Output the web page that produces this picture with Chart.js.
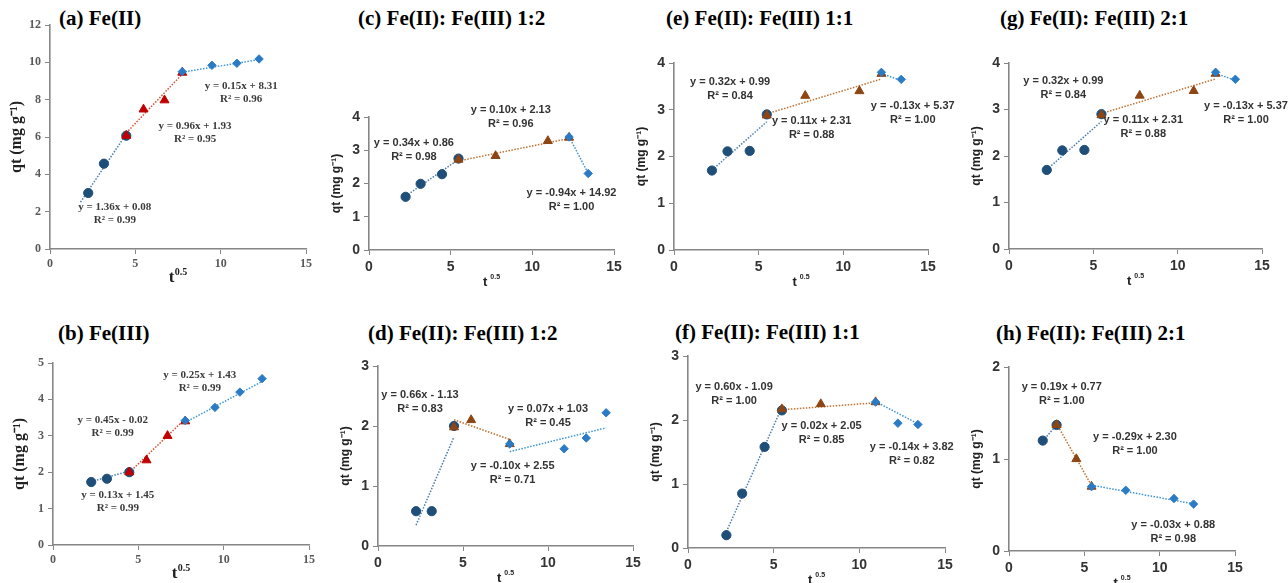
<!DOCTYPE html>
<html>
<head>
<meta charset="utf-8">
<script src="https://cdn.jsdelivr.net/npm/chart.js@4.4.0/dist/chart.umd.min.js"></script>
<style>
  body { margin: 0; background: #fff; width: 1288px; height: 583px; overflow: hidden; position: relative; }
  canvas { position: absolute; }
  .ttl { position: absolute; font: bold 21px "Liberation Serif", "Times New Roman", serif; line-height: 24px; color: #000; white-space: nowrap; }
</style>
</head>
<body>
<script>
// values: [t^0.5, qt]
// (a) Fe(II)
const aCircles = [[2.24, 3.00], [3.16, 4.57], [4.47, 6.07]];
const aTriangles = [[4.47, 6.07], [5.48, 7.48], [6.71, 7.97], [7.75, 9.45]];
const aDiamonds = [[7.75, 9.50], [9.49, 9.84], [10.95, 9.95], [12.25, 10.18]];
const aFits = [[1.36, 0.08, 0.99], [0.96, 1.93, 0.95], [0.15, 8.31, 0.96]];

// (b) Fe(III)
const bCircles = [[2.24, 1.73], [3.16, 1.82], [4.47, 2.00]];
const bTriangles = [[4.47, 2.00], [5.48, 2.33], [6.71, 3.00], [7.75, 3.40]];
const bDiamonds = [[7.75, 3.42], [9.49, 3.78], [10.95, 4.20], [12.25, 4.57]];
const bFits = [[0.13, 1.45, 0.99], [0.45, -0.02, 0.99], [0.25, 1.43, 0.99]];

// (c) Fe(II): Fe(III) 1:2
const cCircles = [[2.24, 1.60], [3.16, 1.99], [4.47, 2.28], [5.48, 2.75]];
const cTriangles = [[5.48, 2.72], [7.75, 2.83], [10.95, 3.28], [12.25, 3.38]];
const cDiamonds = [[12.25, 3.40], [13.42, 2.30]];
const cFits = [[0.34, 0.86, 0.98], [0.10, 2.13, 0.96], [-0.94, 14.92, 1.00]];

// (d) Fe(II): Fe(III) 1:2
const dCircles = [[2.24, 0.58], [3.16, 0.58], [4.47, 2.00]];
const dTriangles = [[4.47, 1.98], [5.48, 2.10], [7.75, 1.70]];
const dDiamonds = [[7.75, 1.70], [10.95, 1.62], [12.25, 1.80], [13.42, 2.22]];
const dFits = [[0.66, -1.13, 0.83], [-0.10, 2.55, 0.71], [0.07, 1.03, 0.45]];

// (e) Fe(II): Fe(III) 1:1
const eCircles = [[2.24, 1.70], [3.16, 2.11], [4.47, 2.12], [5.48, 2.90]];
const eTriangles = [[5.48, 2.88], [7.75, 3.30], [10.95, 3.40], [12.25, 3.77]];
const eDiamonds = [[12.25, 3.80], [13.42, 3.65]];
const eFits = [[0.32, 0.99, 0.84], [0.11, 2.31, 0.88], [-0.13, 5.37, 1.00]];

// (f) Fe(II): Fe(III) 1:1
const fCircles = [[2.24, 0.20], [3.16, 0.85], [4.47, 1.58], [5.48, 2.15]];
const fTriangles = [[5.48, 2.17], [7.75, 2.25], [10.95, 2.28]];
const fDiamonds = [[10.95, 2.28], [12.25, 1.95], [13.42, 1.93]];
const fFits = [[0.60, -1.09, 1.00], [0.02, 2.05, 0.85], [-0.14, 3.82, 0.82]];

// (g) Fe(II): Fe(III) 2:1
const gCircles = [[2.24, 1.70], [3.16, 2.12], [4.47, 2.13], [5.48, 2.90]];
const gTriangles = [[5.48, 2.88], [7.75, 3.30], [10.95, 3.40], [12.25, 3.77]];
const gDiamonds = [[12.25, 3.80], [13.42, 3.65]];
const gFits = [[0.32, 0.99, 0.84], [0.11, 2.31, 0.88], [-0.13, 5.37, 1.00]];

// (h) Fe(II): Fe(III) 2:1
const hCircles = [[2.24, 1.20], [3.16, 1.37]];
const hTriangles = [[3.16, 1.37], [4.47, 1.00], [5.48, 0.70]];
const hDiamonds = [[5.48, 0.70], [7.75, 0.66], [10.95, 0.57], [12.25, 0.51]];
const hFits = [[0.19, 0.77, 1.00], [-0.29, 2.30, 1.00], [-0.03, 0.88, 0.98]];

const xTicks = [0, 5, 10, 15];

// layout: area = [left, top, right, bottom] of the plot box, labels in data units
const panels = [
  { title: '(a) Fe(II)', titleAt: [59, 18], area: [50, 25, 306, 249], serif: true, red: true,
    series: [aCircles, aTriangles, aDiamonds], fits: aFits, yMax: 12, yStep: 2, back: [0.45, 0, 0],
    labels: [[3.8, 2.25], [8.5, 6.6], [11.2, 8.7]] },
  { title: '(b) Fe(III)', titleAt: [58, 333], area: [53, 363, 309, 545], serif: true, red: true,
    series: [bCircles, bTriangles, bDiamonds], fits: bFits, yMax: 5, yStep: 1, back: [0, 0, 0],
    labels: [[3.8, 1.37], [3.5, 3.43], [8.6, 4.67]] },
  { title: '(c) Fe(II): Fe(III) 1:2', titleAt: [358, 18], area: [369, 117, 614, 250],
    series: [cCircles, cTriangles, cDiamonds], fits: cFits, yMax: 4, yStep: 1, back: [0, 0, 0],
    labels: [[2.75, 3.22], [8.68, 4.22], [12.4, 1.72]] },
  { title: '(d) Fe(II): Fe(III) 1:2', titleAt: [368, 333], area: [378, 366, 633, 546],
    series: [dCircles, dTriangles, dDiamonds], fits: dFits, yMax: 3, yStep: 1, back: [0, 0, 0],
    labels: [[2.47, 2.52], [7.92, 1.34], [10.0, 2.29]] },
  { title: '(e) Fe(II): Fe(III) 1:1', titleAt: [666, 18], area: [674, 63, 928, 250],
    series: [eCircles, eTriangles, eDiamonds], fits: eFits, yMax: 4, yStep: 1, back: [0, 0, 0],
    labels: [[3.31, 3.59], [8.13, 2.76], [14.1, 3.08]] },
  { title: '(f) Fe(II): Fe(III) 1:1', titleAt: [675, 332], area: [688, 356, 945, 548],
    series: [fCircles, fTriangles, fDiamonds], fits: fFits, yMax: 3, yStep: 1, back: [0, 0, 0],
    labels: [[2.69, 2.51], [7.8, 1.90], [13.06, 1.58]] },
  { title: '(g) Fe(II): Fe(III) 2:1', titleAt: [1000, 18], area: [1009, 63, 1262, 249],
    series: [gCircles, gTriangles, gDiamonds], fits: gFits, yMax: 4, yStep: 1, back: [0, 0, 0],
    labels: [[3.22, 3.61], [7.96, 2.77], [14.05, 3.07]] },
  { title: '(h) Fe(II): Fe(III) 2:1', titleAt: [996, 333], area: [1009, 367, 1235, 551],
    series: [hCircles, hTriangles, hDiamonds], fits: hFits, yMax: 2, yStep: 1, back: [0, 0, 0],
    labels: [[3.5, 1.78], [8.36, 1.24], [10.9, 0.28]] }
];

const PAD_L = 50, PAD_T = 30, PAD_R = 30, PAD_B = 45;

function eqText(m, b) {
  return 'y = ' + m.toFixed(2) + 'x' + (b < 0 ? ' - ' : ' + ') + Math.abs(b).toFixed(2);
}

function toXY(pts) {
  return pts.map(p => ({ x: p[0], y: p[1] }));
}

function fitLine(fit, pts, back) {
  const xs = pts.map(p => p[0]);
  const x0 = Math.min(...xs) - back, x1 = Math.max(...xs);
  return [{ x: x0, y: fit[0] * x0 + fit[1] }, { x: x1, y: fit[0] * x1 + fit[1] }];
}

panels.forEach(p => {
  const [L, T, R, B] = p.area;

  const t = document.createElement('div');
  t.className = 'ttl';
  t.textContent = p.title;
  t.style.left = p.titleAt[0] + 'px';
  t.style.top = (p.titleAt[1] - 12) + 'px';
  document.body.appendChild(t);

  const cv = document.createElement('canvas');
  const w = R - L + PAD_L + PAD_R, h = B - T + PAD_T + PAD_B;
  cv.width = w; cv.height = h;
  cv.style.left = (L - PAD_L) + 'px';
  cv.style.top = (T - PAD_T) + 'px';
  cv.style.width = w + 'px'; cv.style.height = h + 'px';
  document.body.appendChild(cv);

  const serifFam = '"Liberation Serif", "Times New Roman", serif';
  const sansFam = '"Liberation Sans", Arial, sans-serif';
  const tickFont = p.serif ? { family: serifFam, size: 12, weight: 'bold' } : { family: sansFam, size: 14, weight: 'bold' };
  const tickColor = p.serif ? '#595959' : '#333';
  const triColor = p.red ? '#C00000' : '#8E4514';
  const triLine = p.red ? '#D4502E' : '#C0712E';
  const circColor = '#1F4E79', diaColor = '#2A7BC4';
  const circLine = '#4A7DAE', diaLine = '#3C95D6';

  const datasets = [
    { data: toXY(p.series[2]), pointStyle: 'rectRot', pointRadius: 4.2, backgroundColor: diaColor, borderColor: diaColor, borderWidth: 1 },
    { data: toXY(p.series[1]), pointStyle: 'triangle', pointRadius: 5.2, backgroundColor: triColor, borderColor: triColor, borderWidth: 1 },
    { data: toXY(p.series[0]), pointStyle: 'circle', pointRadius: 4.6, backgroundColor: circColor, borderColor: circColor, borderWidth: 1 }
  ];
  const lineColors = [circLine, triLine, diaLine];
  p.fits.forEach((f, i) => {
    datasets.push({
      data: fitLine(f, p.series[i], p.back[i]), showLine: true, pointRadius: 0,
      borderColor: lineColors[i], borderWidth: 1.5, borderDash: [1.5, 1.5]
    });
  });

  const textPlugin = {
    id: 'panelText',
    afterDraw(chart) {
      const ctx = chart.ctx, xs = chart.scales.x, ys = chart.scales.y;
      const eqFont = p.serif ? 'bold 11px ' + serifFam : 'bold 11px ' + sansFam;
      const gap = p.serif ? 13 : 14;
      ctx.save();
      ctx.fillStyle = p.serif ? '#3a3a3a' : '#333';
      ctx.font = eqFont;
      ctx.textAlign = 'center';
      ctx.textBaseline = 'middle';
      p.fits.forEach((f, i) => {
        const cx = xs.getPixelForValue(p.labels[i][0]);
        const cy = ys.getPixelForValue(p.labels[i][1]);
        ctx.fillText(eqText(f[0], f[1]), cx, cy);
        ctx.fillText('R\u00B2 = ' + f[2].toFixed(2), cx, cy + gap);
      });
      // x axis title with superscript
      const mid = (chart.chartArea.left + chart.chartArea.right) / 2;
      const base = chart.chartArea.bottom + (p.serif ? 33 : 36);
      const big = p.serif ? 'bold 17px ' + serifFam : 'bold 13px ' + sansFam;
      const small = p.serif ? 'bold 10px ' + serifFam : 'bold 7px ' + sansFam;
      ctx.textAlign = 'left';
      ctx.textBaseline = 'alphabetic';
      ctx.fillStyle = '#222';
      ctx.font = big;
      const wt = ctx.measureText('t').width + (p.serif ? 0.5 : 3);
      ctx.font = small;
      const ws = ctx.measureText('0.5').width;
      const x0 = mid - (wt + ws) / 2;
      ctx.font = big;
      ctx.fillText('t', x0, base);
      ctx.font = small;
      ctx.fillText('0.5', x0 + wt, base - (p.serif ? 7 : 7));
      ctx.restore();
    }
  };

  new Chart(cv, {
    type: 'scatter',
    data: { datasets },
    options: {
      responsive: false,
      animation: false,
      events: [],
      layout: { padding: { left: 0, top: PAD_T, right: PAD_R, bottom: 0 } },
      plugins: { legend: { display: false }, tooltip: { enabled: false } },
      scales: {
        x: {
          min: 0, max: 15,
          afterFit: s => { s.height = PAD_B; },
          afterBuildTicks: s => { s.ticks = xTicks.map(v => ({ value: v })); },
          grid: { drawOnChartArea: false, drawTicks: true, tickLength: 5, color: '#868686' },
          border: { color: '#868686', width: 1.6 },
          ticks: { font: tickFont, color: tickColor, padding: p.serif ? 3 : 4, maxRotation: 0 }
        },
        y: {
          min: 0, max: p.yMax,
          afterFit: s => { s.width = PAD_L; },
          grid: { drawOnChartArea: false, drawTicks: true, tickLength: 5, color: '#868686' },
          border: { color: '#868686', width: 1.6 },
          ticks: { stepSize: p.yStep, font: tickFont, color: tickColor, padding: 4 },
          title: {
            display: true,
            text: 'qt (mg g\u207B\u00B9)',
            color: '#222',
            font: p.serif ? { family: serifFam, size: 16, weight: 'bold' } : { family: sansFam, size: 12, weight: 'bold' },
            padding: { top: p.serif ? 7 : 10, bottom: 0 }
          }
        }
      }
    },
    plugins: [textPlugin]
  });
});
</script>
</body>
</html>
